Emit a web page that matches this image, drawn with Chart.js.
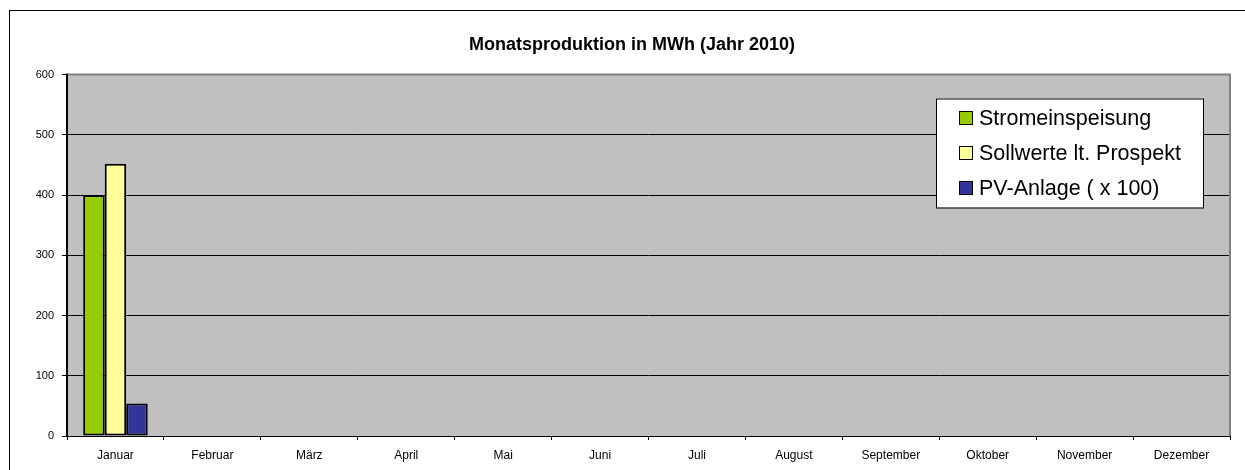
<!DOCTYPE html>
<html>
<head>
<meta charset="utf-8">
<script src="https://cdn.jsdelivr.net/npm/chart.js@4.4.1/dist/chart.umd.min.js"></script>
<style>
  html, body { margin: 0; padding: 0; background: #ffffff; }
  #wrap { width: 1245px; height: 470px; position: relative; }
</style>
</head>
<body>
<div id="wrap"><canvas id="c" width="1245" height="470"></canvas></div>
<script>
const categories = ["Januar", "Februar", "März", "April", "Mai", "Juni", "Juli", "August", "September", "Oktober", "November", "Dezember"];
const stromeinspeisung = [400, null, null, null, null, null, null, null, null, null, null, null];
const sollwerte = [452, null, null, null, null, null, null, null, null, null, null, null];
const pvAnlage = [54, null, null, null, null, null, null, null, null, null, null, null];
const yTicks = [0, 100, 200, 300, 400, 500, 600];
const titleText = "Monatsproduktion in MWh (Jahr 2010)";

const FONT = "'Liberation Sans', Arial, sans-serif";

const framePlugin = {
  id: 'frame',
  beforeDraw(chart) {
    const ctx = chart.ctx;
    const a = chart.chartArea;
    ctx.save();
    ctx.fillStyle = '#ffffff';
    ctx.fillRect(0, 0, chart.width, chart.height);
    ctx.strokeStyle = '#000000';
    ctx.lineWidth = 1;
    ctx.strokeRect(9.5, 10.5, chart.width + 20, chart.height + 20);
    ctx.fillStyle = '#c0c0c0';
    ctx.fillRect(a.left, a.top, a.right - a.left, a.bottom - a.top);
    ctx.restore();
  },
  afterDatasetsDraw(chart) {
    const ctx = chart.ctx;
    const a = chart.chartArea;
    ctx.save();
    ctx.strokeStyle = '#808080';
    ctx.lineWidth = 2;
    ctx.beginPath();
    ctx.moveTo(a.left, a.top);
    ctx.lineTo(a.right, a.top);
    ctx.lineTo(a.right, a.bottom);
    ctx.stroke();
    ctx.strokeStyle = '#000000';
    ctx.lineWidth = 2;
    ctx.beginPath();
    ctx.moveTo(a.left, a.top - 1);
    ctx.lineTo(a.left, a.bottom);
    ctx.stroke();
    ctx.lineWidth = 1;
    ctx.beginPath();
    ctx.moveTo(a.left, a.bottom + 0.5);
    ctx.lineTo(a.right, a.bottom + 0.5);
    ctx.stroke();
    ctx.restore();
  },
  afterDraw(chart) {
    // legend inside plot area
    const ctx = chart.ctx;
    const bx = 936, by = 98.5, bw = 267, bh = 109;
    ctx.save();
    ctx.fillStyle = '#ffffff';
    ctx.fillRect(bx, by, bw, bh);
    ctx.strokeStyle = '#000000';
    ctx.lineWidth = 1;
    ctx.strokeRect(bx + 0.5, by + 0.5, bw, bh);
    ctx.font = '21.5px ' + FONT;
    ctx.textBaseline = 'middle';
    chart.data.datasets.forEach((ds, i) => {
      const cy = 118 + i * 35;
      ctx.fillStyle = ds.backgroundColor;
      ctx.fillRect(959, cy - 7, 14, 14);
      ctx.strokeStyle = '#000000';
      ctx.lineWidth = 1;
      ctx.strokeRect(959.5, cy - 6.5, 13, 13);
      ctx.fillStyle = '#000000';
      ctx.fillText(ds.label, 979, cy + 1);
    });
    ctx.restore();
  }
};

new Chart(document.getElementById('c'), {
  type: 'bar',
  data: {
    labels: categories,
    datasets: [
      { label: 'Stromeinspeisung', data: stromeinspeisung, backgroundColor: '#99cc00', borderColor: '#000000', borderWidth: 2, borderSkipped: false },
      { label: 'Sollwerte lt. Prospekt', data: sollwerte, backgroundColor: '#ffff99', borderColor: '#000000', borderWidth: 2, borderSkipped: false },
      { label: 'PV-Anlage ( x 100)', data: pvAnlage, backgroundColor: '#333399', borderColor: '#000000', borderWidth: 2, borderSkipped: false }
    ]
  },
  plugins: [framePlugin],
  options: {
    responsive: false,
    animation: false,
    devicePixelRatio: 1,
    layout: { padding: { left: 34, top: 10, right: 15, bottom: 0 } },
    datasets: { bar: { barPercentage: 1.0, categoryPercentage: 0.666 } },
    plugins: {
      legend: { display: false },
      tooltip: { enabled: false },
      title: {
        display: true,
        text: titleText,
        color: '#000000',
        font: { family: FONT, size: 18, weight: 'bold' },
        padding: { top: 24, bottom: 19 }
      }
    },
    scales: {
      x: {
        offset: true,
        grid: { offset: true, drawOnChartArea: false, drawTicks: true, tickLength: 4, color: '#000000' },
        border: { display: false },
        ticks: { color: '#000000', font: { family: FONT, size: 12 }, padding: 8, maxRotation: 0, autoSkip: false },
        afterFit(scale) { scale.height = 34; }
      },
      y: {
        min: 0,
        max: 600,
        afterBuildTicks(scale) { scale.ticks = yTicks.map(v => ({ value: v })); },
        grid: { color: '#000000', lineWidth: 1, drawTicks: true, tickLength: 5 },
        border: { display: false },
        ticks: { color: '#000000', font: { family: FONT, size: 11 }, padding: 8 },
        afterFit(scale) { scale.width = 33; }
      }
    }
  }
});
</script>
</body>
</html>
